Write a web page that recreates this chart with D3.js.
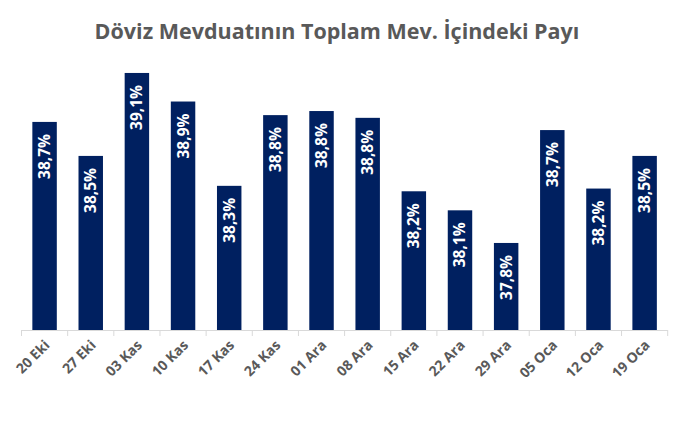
<!DOCTYPE html>
<html><head><meta charset="utf-8">
<script src="https://cdn.jsdelivr.net/npm/d3@7"></script>
<style>body{margin:0;background:#fff}</style>
</head><body>
<script>
const categories = ["20 Eki","27 Eki","03 Kas","10 Kas","17 Kas","24 Kas","01 Ara","08 Ara","15 Ara","22 Ara","29 Ara","05 Oca","12 Oca","19 Oca"];
const values = [38.73,38.48,39.09,38.88,38.26,38.78,38.81,38.76,38.22,38.08,37.84,38.67,38.24,38.48];
const title = "Döviz Mevduatının Toplam Mev. İçindeki Payı";
const yDomain = [37.2, 39.2];

const W = 686, H = 437;
const svg = d3.select("body").append("svg").attr("width", W).attr("height", H);
const font = "'Open Sans', 'Liberation Sans', sans-serif";

const x = d3.scaleBand().domain(categories).range([21.5, 667.7]).paddingInner(0.47).paddingOuter(0.235);
const y = d3.scaleLinear().domain(yDomain).range([330, 58]);

svg.append("text").attr("x", 337).attr("y", 39).attr("text-anchor", "middle")
  .attr("font-family", font).attr("font-weight", "bold").attr("font-size", 21.5)
  .attr("fill", "#595959").text(title);

svg.selectAll("rect.bar").data(values).join("rect").attr("class","bar")
  .attr("x", (d,i) => x(categories[i]))
  .attr("width", x.bandwidth())
  .attr("y", d => y(d))
  .attr("height", d => y(yDomain[0]) - y(d))
  .attr("fill", "#002060");

const fmt = d => d.toFixed(1).replace(".", ",") + "%";
svg.selectAll("text.lbl").data(values).join("text").attr("class","lbl")
  .attr("transform", (d,i) => `translate(${x(categories[i]) + x.bandwidth()/2 + 5.5},${y(d) + 12}) rotate(-90)`)
  .attr("text-anchor", "end")
  .attr("font-family", font).attr("font-weight", "bold").attr("font-size", 15.5)
  .attr("fill", "#fff").text(fmt);

// axis
const axisG = svg.append("g").attr("transform", "translate(0,330)");
const x0 = 21.5, x1 = 667.7;
axisG.append("line").attr("x1", x0).attr("x2", x1).attr("y1", 0.5).attr("y2", 0.5)
  .attr("stroke", "#d9d9d9").attr("stroke-width", 1);
const ticks = d3.range(categories.length + 1).map(i => x0 + (x1 - x0) * i / categories.length);
axisG.selectAll("line.tick").data(ticks).join("line").attr("class","tick")
  .attr("x1", d => d).attr("x2", d => d).attr("y1", 0).attr("y2", 6)
  .attr("stroke", "#d9d9d9").attr("stroke-width", 1);

axisG.selectAll("text.cat").data(categories).join("text").attr("class","cat")
  .attr("transform", d => `translate(${x(d) + x.bandwidth()/2 + 6},${16}) rotate(-45)`)
  .attr("text-anchor", "end")
  .attr("font-family", font).attr("font-weight", "bold").attr("font-size", 14)
  .attr("fill", "#595959").text(d => d);
</script>
</body></html>
